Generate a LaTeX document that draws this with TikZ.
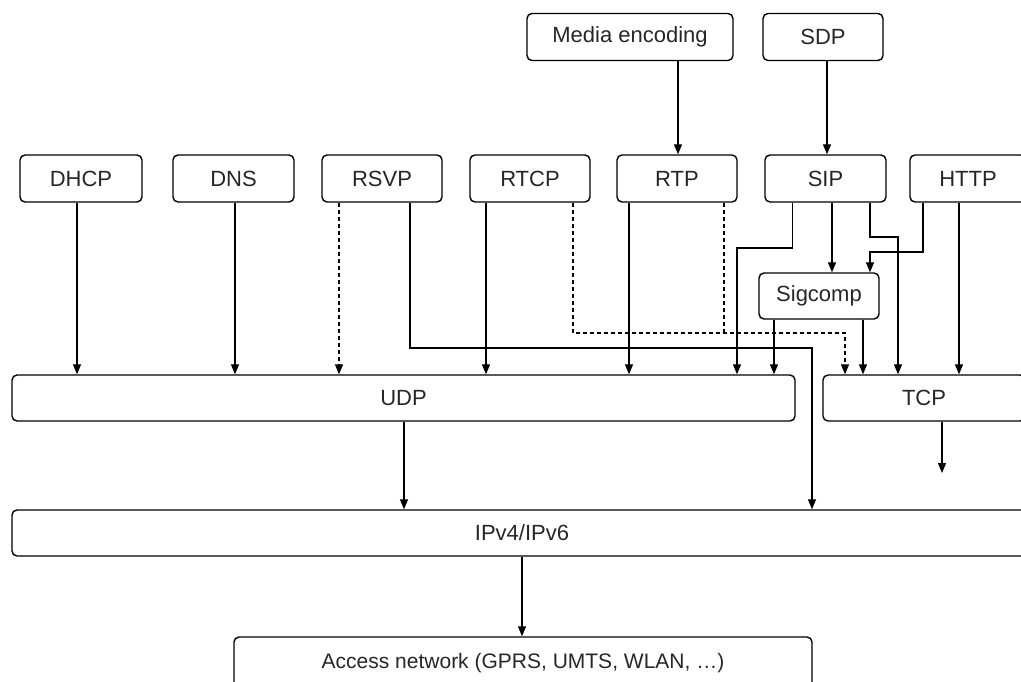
\documentclass[tikz,border=0pt]{standalone}
\usepackage{fontspec}
\setmainfont{Liberation Sans}
\usetikzlibrary{arrows.meta}
\begin{document}
\begin{tikzpicture}[x=1pt,y=-1pt,
  box/.style={draw, line width=1.4pt, rounded corners=5pt, inner sep=0pt,
    minimum height=47pt, font=\fontsize{22}{25}\selectfont, text=black!85},
  arr/.style={line width=1.2pt, -{Triangle[length=10pt,width=8pt]}},
  plain/.style={line width=1.2pt},
  dsh/.style={line width=1.2pt, dash pattern=on 4pt off 3pt}]
\useasboundingbox (0,0) rectangle (1021,681);
\clip (0,0) rectangle (1021,681);
% top
\node[box, minimum width=206pt] (ME) at (630,37) {Media encoding};
\node[box, minimum width=120pt] (SDP) at (823,37) {SDP};
% row
\node[box, minimum width=122pt] (DHCP) at (81,178.5) {DHCP};
\node[box, minimum width=121pt] (DNS) at (233.5,178.5) {DNS};
\node[box, minimum width=120pt] (RSVP) at (382,178.5) {RSVP};
\node[box, minimum width=120pt] (RTCP) at (530,178.5) {RTCP};
\node[box, minimum width=120pt] (RTP) at (677,178.5) {RTP};
\node[box, minimum width=121pt] (SIP) at (825.5,178.5) {SIP};
\node[box, minimum width=116pt] (HTTP) at (968,178.5) {HTTP};
\node[box, minimum width=120pt, minimum height=46pt] (SC) at (819,296) {Sigcomp};
% layers
\node[box, minimum width=783pt, minimum height=46pt] (UDP) at (403.5,398) {UDP};
\node[box, minimum width=202pt, minimum height=46pt] (TCP) at (924,398) {TCP};
\node[box, minimum width=1020pt, minimum height=46pt] (IP) at (522,533) {IPv4/IPv6};
\node[box, minimum width=578pt, minimum height=52pt, font=\fontsize{21}{24}\selectfont] (AN) at (523,663) {Access network (GPRS, UMTS, WLAN, \dots)};
% bend points
\coordinate (rsvpbend) at (812,348);
\coordinate (dashbend) at (845,333);
\coordinate (sipLbend) at (737,248);
\coordinate (sipRbend) at (898,237);
\coordinate (httpbend) at (870,252);
\coordinate (tcpend) at (942,473);
% top arrows
\draw[arr] ([xshift=48]ME.south) -- ([xshift=48]ME.south |- RTP.north);
\draw[arr] ([xshift=4]SDP.south) -- ([xshift=4]SDP.south |- SIP.north);
% to UDP
\draw[arr] ([xshift=-4]DHCP.south) -- ([xshift=-4]DHCP.south |- UDP.north);
\draw[arr] ([xshift=1.5]DNS.south) -- ([xshift=1.5]DNS.south |- UDP.north);
\draw[dsh, -{Triangle[length=10pt,width=8pt]}] ([xshift=-43]RSVP.south) -- ([xshift=-43]RSVP.south |- UDP.north);
\draw[arr] ([xshift=28]RSVP.south) |- (rsvpbend) -- (rsvpbend |- IP.north);
\draw[arr] ([xshift=-44]RTCP.south) -- ([xshift=-44]RTCP.south |- UDP.north);
\draw[dsh, -{Triangle[length=10pt,width=8pt]}] ([xshift=43]RTCP.south) |- (dashbend) -- (dashbend |- TCP.north);
\draw[arr] ([xshift=-48]RTP.south) -- ([xshift=-48]RTP.south |- UDP.north);
\draw[dsh] ([xshift=47]RTP.south) -- ([xshift=47]RTP.south |- dashbend);
\draw[arr] ([xshift=-33]SIP.south) |- (sipLbend) -- (sipLbend |- UDP.north);
\draw[arr] ([xshift=6.5]SIP.south) -- ([xshift=6.5]SIP.south |- SC.north);
\draw[arr] ([xshift=44.5]SIP.south) |- (sipRbend) -- (sipRbend |- TCP.north);
\draw[arr] ([xshift=-45]HTTP.south) |- (httpbend) -- (httpbend |- SC.north);
\draw[arr] ([xshift=-9]HTTP.south) -- ([xshift=-9]HTTP.south |- TCP.north);
\draw[arr] ([xshift=-45]SC.south) -- ([xshift=-45]SC.south |- UDP.north);
\draw[arr] ([xshift=44]SC.south) -- ([xshift=44]SC.south |- TCP.north);
% lower
\draw[arr] ([xshift=0.5]UDP.south) -- ([xshift=0.5]UDP.south |- IP.north);
\draw[arr] (TCP.south -| tcpend) -- (tcpend);
\draw[arr] (IP.south) -- (IP.south |- AN.north);
\end{tikzpicture}
\end{document}
